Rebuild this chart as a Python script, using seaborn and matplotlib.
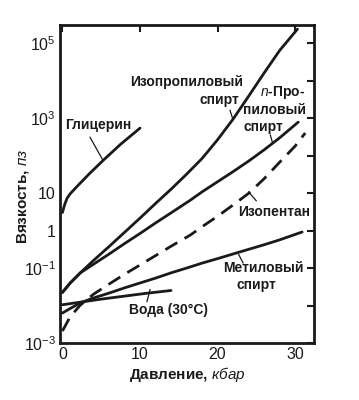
import matplotlib
matplotlib.use("Agg")
import matplotlib.pyplot as plt
import matplotlib.ticker as mticker
import numpy as np
import pandas as pd
import seaborn as sns

sns.set_theme(style="white")
plt.rcParams["font.family"] = ["Liberation Sans", "DejaVu Sans"]
plt.rcParams["mathtext.fontset"] = "custom"
plt.rcParams["mathtext.rm"] = "Liberation Sans"
plt.rcParams["mathtext.it"] = "Liberation Sans:italic"
plt.rcParams["mathtext.bf"] = "Liberation Sans:bold"
plt.rcParams["text.color"] = "k"
plt.rcParams["axes.labelcolor"] = "k"

# pressure (kbar) and log10 viscosity (poise)
glyc_p = [0, 0.3, 0.6, 1, 2, 3.5, 5.3, 7.5, 10]
glyc_v = [0.48, 0.7, 0.86, 0.98, 1.2, 1.52, 1.88, 2.3, 2.73]

iprop_p = [0, 1, 2.3, 4, 6, 8, 10, 12, 14, 16, 18, 20, 22, 24, 26, 28, 30.3]
iprop_v = [-1.65, -1.4, -1.13, -0.8, -0.43, -0.05, 0.33, 0.72, 1.1, 1.5,
           1.92, 2.42, 2.97, 3.58, 4.2, 4.8, 5.37]

nprop_p = [0, 1, 2.3, 4, 6, 8, 10, 12, 14, 16.5, 18, 20, 22, 24, 26, 28, 30.4]
nprop_v = [-1.65, -1.4, -1.13, -0.9, -0.63, -0.35, -0.08, 0.2, 0.47, 0.81,
           1.03, 1.3, 1.57, 1.85, 2.15, 2.47, 2.89]

ipent_p = [0, 1, 2.3, 4, 6, 8.3, 10, 12, 14, 16.5, 18, 20, 22, 24, 26, 28, 30, 31.3]
ipent_v = [-2.68, -2.3, -1.99, -1.7, -1.43, -1.13, -0.92, -0.67, -0.42, -0.12,
           0.1, 0.38, 0.68, 0.99, 1.38, 1.82, 2.25, 2.6]

meth_p = [0, 1, 2.3, 4, 6, 8, 10, 12, 14, 16.5, 18, 20, 22.9, 26, 28, 30.9]
meth_v = [-2.2, -2.08, -1.93, -1.8, -1.67, -1.53, -1.4, -1.27, -1.13, -0.97,
          -0.87, -0.75, -0.57, -0.38, -0.25, -0.04]

water_p = [0, 2, 5, 8, 11, 14]
water_v = [-1.98, -1.92, -1.83, -1.75, -1.67, -1.6]

curves = [
    ("Глицерин", glyc_p, glyc_v, "-"),
    ("Изопропиловый спирт", iprop_p, iprop_v, "-"),
    ("n-Пропиловый спирт", nprop_p, nprop_v, "-"),
    ("Изопентан", ipent_p, ipent_v, "--"),
    ("Метиловый спирт", meth_p, meth_v, "-"),
    ("Вода (30°C)", water_p, water_v, "-"),
]

fig = plt.figure(figsize=(3.59, 4.0), dpi=100)
ax = fig.add_axes([0.167, 0.1425, 0.708, 0.795])

for name, p, v, ls in curves:
    df = pd.DataFrame({"p": p, "eta": 10.0 ** np.array(v)})
    sns.lineplot(data=df, x="p", y="eta", ax=ax, color="k", lw=2.0,
                 linestyle=ls, sort=False, estimator=None)
    if ls == "--":
        ax.lines[-1].set_dashes([5, 3])

ax.set_yscale("log")
ax.set_xlim(-0.32, 32.45)
ax.set_ylim(1e-3, 10 ** 5.48)

ax.xaxis.set_major_locator(mticker.FixedLocator([0, 10, 20, 30]))
ax.xaxis.set_major_formatter(mticker.FixedFormatter(["0", "10", "20", "30"]))
ytk = [1e-3, 1e-2, 1e-1, 1, 10, 1e2, 1e3, 1e4, 1e5]
ylb = [r"$10^{-3}$", "", r"$10^{-1}$", "1", "10", "", r"$10^3$", "", r"$10^5$"]
ax.yaxis.set_major_locator(mticker.FixedLocator(ytk))
ax.yaxis.set_major_formatter(mticker.FixedFormatter(ylb))
ax.yaxis.set_minor_locator(mticker.NullLocator())
ax.tick_params(axis="both", which="major", direction="in", length=5, width=1.5,
               top=True, right=True, labelsize=11.5, pad=3, colors="k")
for s in ax.spines.values():
    s.set_linewidth(2)
    s.set_color("k")

ax.set_xlabel(r"Давление, $\mathit{кбар}$", fontsize=11, fontweight="bold")
ax.xaxis.set_label_coords(0.5, -0.068)
ax.set_ylabel(r"Вязкость, $\mathit{пз}$", fontsize=11, fontweight="bold")
ax.yaxis.set_label_coords(-0.114, 0.46)

fs = 10
tw = dict(fontsize=fs, fontweight="bold", va="center")
ax.text(0.3, 10 ** 2.81, "Глицерин", ha="left", **tw)
ax.plot([3.55, 5.2], [10 ** 2.49, 10 ** 1.88], color="k", lw=0.9)

ax.text(8.7, 10 ** 3.96, "Изопропиловый", ha="left", **tw)
ax.text(22.8, 10 ** 3.48, "спирт", ha="right", **tw)
ax.plot([21.6, 22.0], [10 ** 3.21, 10 ** 2.95], color="k", lw=0.9)

ax.text(25.5, 10 ** 3.69, r"$\mathit{n}$-Про-", ha="left", **tw)
ax.text(23.3, 10 ** 3.21, "пиловый", ha="left", **tw)
ax.text(23.4, 10 ** 2.76, "спирт", ha="left", **tw)
ax.plot([26.8, 27.1], [10 ** 2.55, 10 ** 2.33], color="k", lw=0.9)

ax.text(22.6, 10 ** 0.49, "Изопентан", ha="left", **tw)
ax.plot([24.0, 25.0], [10 ** 1.03, 10 ** 0.79], color="k", lw=0.9)

ax.text(20.7, 10 ** -1.0, "Метиловый", ha="left", **tw)
ax.text(22.5, 10 ** -1.45, "спирт", ha="left", **tw)
ax.plot([22.7, 23.3], [10 ** -0.63, 10 ** -0.87], color="k", lw=0.9)

ax.text(8.6, 10 ** -2.12, "Вода (30°C)", ha="left", **tw)
ax.plot([11.3, 10.9], [10 ** -1.57, 10 ** -1.9], color="k", lw=0.9)

fig.savefig("out.png", dpi=100)
